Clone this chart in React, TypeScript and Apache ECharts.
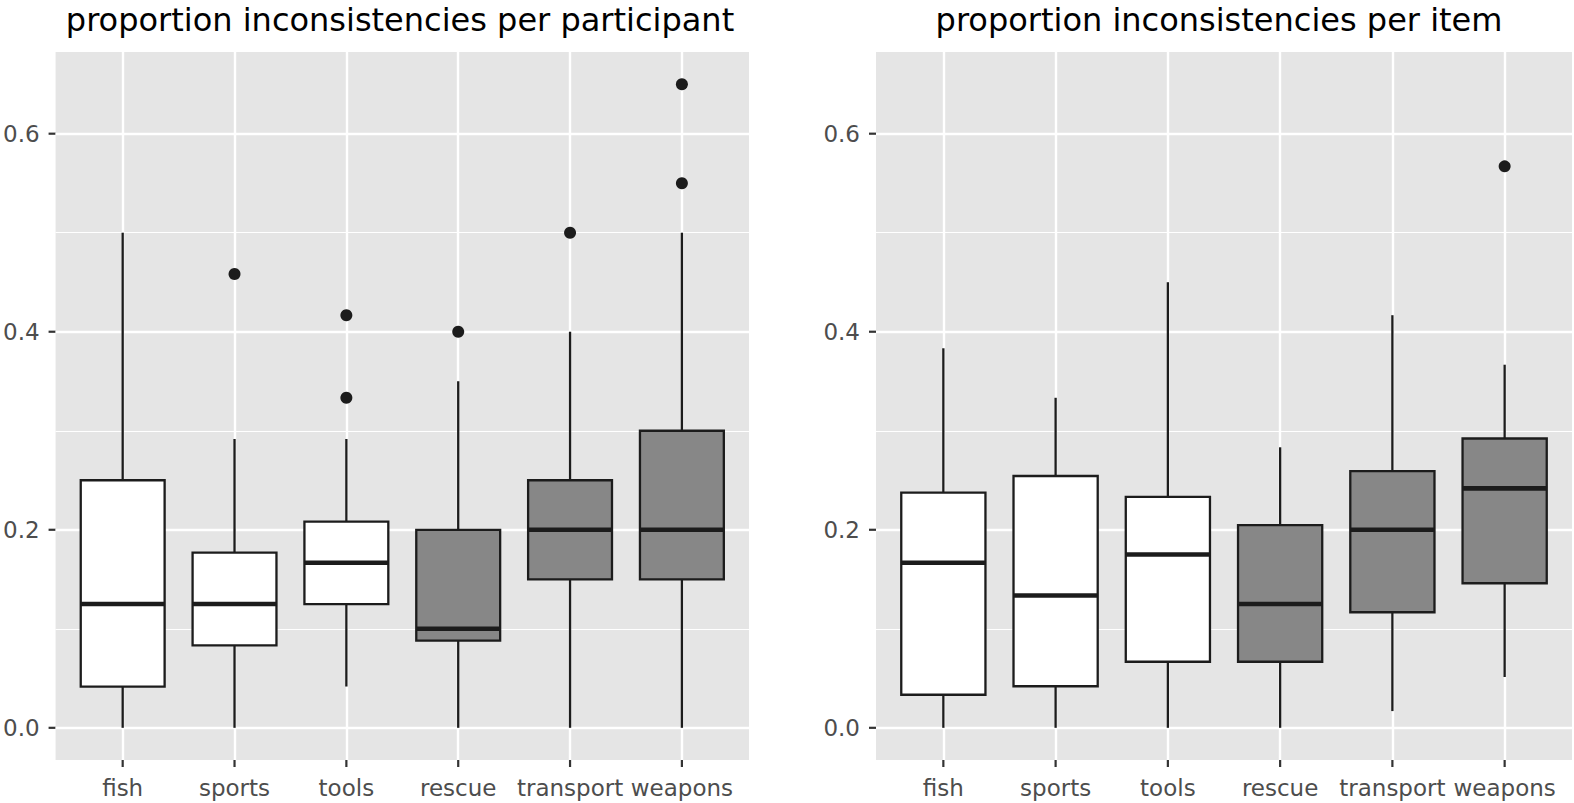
import React, { useEffect, useRef } from "react";
import * as echarts from "echarts";

const CATEGORIES = ["fish", "sports", "tools", "rescue", "transport", "weapons"];
const Y_TICKS = [0, 0.2, 0.4, 0.6];
const Y_MINOR = [0.1, 0.3, 0.5];
const FILLS = ["#FFFFFF", "#FFFFFF", "#FFFFFF", "#878787", "#878787", "#878787"];

const TITLE_LEFT = "proportion inconsistencies per participant";
const TITLE_RIGHT = "proportion inconsistencies per item";

// per participant: lower whisker, Q1, median, Q3, upper whisker
const P_LO = [0, 0, 0.0417, 0, 0, 0];
const P_Q1 = [0.0417, 0.0833, 0.125, 0.088, 0.15, 0.15];
const P_MED = [0.125, 0.125, 0.1667, 0.1, 0.2, 0.2];
const P_Q3 = [0.25, 0.177, 0.2083, 0.2, 0.25, 0.3];
const P_HI = [0.5, 0.2917, 0.2917, 0.35, 0.4, 0.5];
const P_OUTLIERS: [number, number][] = [
  [1, 0.4583],
  [2, 0.4167],
  [2, 0.3333],
  [3, 0.4],
  [4, 0.5],
  [5, 0.65],
  [5, 0.55],
];

// per item
const I_LO = [0, 0, 0, 0, 0.0169, 0.0513];
const I_Q1 = [0.0334, 0.042, 0.0667, 0.0667, 0.1167, 0.146];
const I_MED = [0.1667, 0.1337, 0.175, 0.125, 0.2, 0.2418];
const I_Q3 = [0.2376, 0.2543, 0.2333, 0.2046, 0.2593, 0.2922];
const I_HI = [0.3833, 0.3333, 0.45, 0.2833, 0.4167, 0.3667];
const I_OUTLIERS: [number, number][] = [[5, 0.567]];

const Y_MIN = -0.0325;
const Y_MAX = 0.6825;
const X_MIN = -0.6;
const X_MAX = 5.6;
const BOX_WIDTH = 0.75;
const TICK_LEN = 7;

const FONT = "DejaVu Sans";
const STROKE = "#1c1c1c";
const TICK_COLOR = "#333333";
const PANEL_BG = "#E5E5E5";

function buildBoxData(lo: number[], q1: number[], med: number[], q3: number[], hi: number[]) {
  return CATEGORIES.map((_, i) => [i, lo[i], q1[i], med[i], q3[i], hi[i]]);
}

function renderBox(params: any, api: any) {
  const x = api.value(0);
  const pLo = api.coord([x, api.value(1)]);
  const pQ1 = api.coord([x, api.value(2)]);
  const pMed = api.coord([x, api.value(3)]);
  const pQ3 = api.coord([x, api.value(4)]);
  const pHi = api.coord([x, api.value(5)]);
  const w = api.size([BOX_WIDTH, 0])[0];
  const fill = FILLS[params.dataIndex];
  return {
    type: "group",
    children: [
      {
        type: "line",
        shape: { x1: pLo[0], y1: pLo[1], x2: pQ1[0], y2: pQ1[1] },
        style: { stroke: STROKE, lineWidth: 2.3 },
      },
      {
        type: "line",
        shape: { x1: pQ3[0], y1: pQ3[1], x2: pHi[0], y2: pHi[1] },
        style: { stroke: STROKE, lineWidth: 2.3 },
      },
      {
        type: "rect",
        shape: { x: pQ3[0] - w / 2, y: pQ3[1], width: w, height: pQ1[1] - pQ3[1] },
        style: { fill, stroke: STROKE, lineWidth: 2.3 },
      },
      {
        type: "line",
        shape: { x1: pMed[0] - w / 2, y1: pMed[1], x2: pMed[0] + w / 2, y2: pMed[1] },
        style: { stroke: STROKE, lineWidth: 4.6 },
      },
    ],
  };
}

// tick marks just outside the panel, placed through the axes' scales
function tickSeries(idx: number) {
  const data: any[] = [];
  Y_TICKS.forEach((v) => data.push([X_MIN, v, 0]));
  CATEGORIES.forEach((_, i) => data.push([i, Y_MIN, 1]));
  return {
    type: "custom",
    xAxisIndex: idx,
    yAxisIndex: idx,
    z: 4,
    silent: true,
    clip: false,
    renderItem: (params: any, api: any) => {
      const p = api.coord([api.value(0), api.value(1)]);
      const vertical = api.value(2) === 1;
      const shape = vertical
        ? { x1: p[0], y1: p[1], x2: p[0], y2: p[1] + TICK_LEN }
        : { x1: p[0] - TICK_LEN, y1: p[1], x2: p[0], y2: p[1] };
      return { type: "line", shape, style: { stroke: TICK_COLOR, lineWidth: 2.2 } };
    },
    data,
  };
}

function gridLineSeries(idx: number) {
  const data: any[] = [];
  Y_MINOR.forEach((v) => data.push({ yAxis: v, lineStyle: { width: 1.2 } }));
  Y_TICKS.forEach((v) => data.push({ yAxis: v, lineStyle: { width: 2.4 } }));
  CATEGORIES.forEach((_, i) => data.push({ xAxis: i, lineStyle: { width: 2.4 } }));
  return {
    type: "scatter",
    xAxisIndex: idx,
    yAxisIndex: idx,
    data: [],
    z: 1,
    silent: true,
    markLine: {
      silent: true,
      symbol: ["none", "none"],
      label: { show: false },
      lineStyle: { color: "#FFFFFF", type: "solid", width: 2 },
      emphasis: { disabled: true },
      data,
    },
  };
}

function xAxis(idx: number) {
  const vals = CATEGORIES.map((_, i) => i);
  return {
    type: "value",
    gridIndex: idx,
    min: X_MIN,
    max: X_MAX,
    axisLine: { show: false },
    splitLine: { show: false },
    minorSplitLine: { show: false },
    axisTick: { show: false },
    axisLabel: {
      customValues: vals,
      formatter: (v: number) => CATEGORIES[Math.round(v)] ?? "",
      fontFamily: FONT,
      fontSize: 23,
      color: "#4D4D4D",
      margin: 16,
    },
  };
}

function yAxis(idx: number) {
  return {
    type: "value",
    gridIndex: idx,
    min: Y_MIN,
    max: Y_MAX,
    axisLine: { show: false },
    splitLine: { show: false },
    axisTick: { show: false },
    axisLabel: {
      customValues: Y_TICKS,
      formatter: (v: number) => v.toFixed(1),
      fontFamily: FONT,
      fontSize: 23,
      color: "#4D4D4D",
      margin: 16,
    },
  };
}

export default function App() {
  const ref = useRef<HTMLDivElement>(null);

  useEffect(() => {
    if (!ref.current) return;
    const chart = echarts.init(ref.current, null, { renderer: "svg" });
    const option: any = {
      animation: false,
      backgroundColor: "#FFFFFF",
      grid: [
        { left: 53, top: 52, width: 696, height: 708, show: true, backgroundColor: PANEL_BG, borderWidth: 0 },
        { left: 876, top: 52, width: 696, height: 708, show: true, backgroundColor: PANEL_BG, borderWidth: 0 },
      ],
      xAxis: [xAxis(0), xAxis(1)],
      yAxis: [yAxis(0), yAxis(1)],
      graphic: [
        {
          type: "text",
          x: 400,
          y: 20,
          style: {
            text: TITLE_LEFT,
            fontFamily: FONT,
            fontSize: 32,
            fill: "#000000",
            align: "center",
            verticalAlign: "middle",
          },
        },
        {
          type: "text",
          x: 1219,
          y: 20,
          style: {
            text: TITLE_RIGHT,
            fontFamily: FONT,
            fontSize: 32,
            fill: "#000000",
            align: "center",
            verticalAlign: "middle",
          },
        },
      ],
      series: [
        gridLineSeries(0),
        gridLineSeries(1),
        tickSeries(0),
        tickSeries(1),
        {
          type: "custom",
          xAxisIndex: 0,
          yAxisIndex: 0,
          z: 5,
          silent: true,
          renderItem: renderBox,
          encode: { x: 0, y: [1, 2, 3, 4, 5] },
          data: buildBoxData(P_LO, P_Q1, P_MED, P_Q3, P_HI),
        },
        {
          type: "custom",
          xAxisIndex: 1,
          yAxisIndex: 1,
          z: 5,
          silent: true,
          renderItem: renderBox,
          encode: { x: 0, y: [1, 2, 3, 4, 5] },
          data: buildBoxData(I_LO, I_Q1, I_MED, I_Q3, I_HI),
        },
        {
          type: "scatter",
          xAxisIndex: 0,
          yAxisIndex: 0,
          z: 6,
          silent: true,
          symbolSize: 12,
          itemStyle: { color: STROKE, opacity: 1 },
          data: P_OUTLIERS,
        },
        {
          type: "scatter",
          xAxisIndex: 1,
          yAxisIndex: 1,
          z: 6,
          silent: true,
          symbolSize: 12,
          itemStyle: { color: STROKE, opacity: 1 },
          data: I_OUTLIERS,
        },
      ],
    };
    chart.setOption(option);
    return () => chart.dispose();
  }, []);

  return (
    <div
      ref={ref}
      style={{ position: "fixed", left: 0, top: 0, width: 1574, height: 803, background: "#FFFFFF" }}
    />
  );
}
